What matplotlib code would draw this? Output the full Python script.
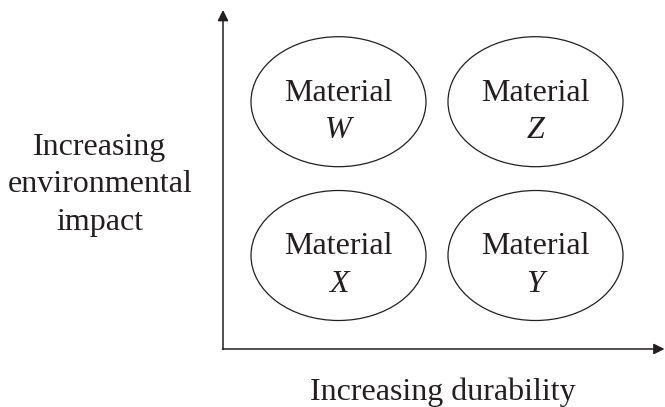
import matplotlib
matplotlib.use("Agg")
import matplotlib.pyplot as plt
from matplotlib.patches import Ellipse

# Data
materials = ["W", "Z", "X", "Y"]
durability_level = [0, 1, 0, 1]   # 0 = lower, 1 = higher
impact_level = [1, 1, 0, 0]       # 0 = lower, 1 = higher
x_label = "Increasing durability"
y_label = "Increasing\nenvironmental\nimpact"

INK = "#231f20"
W, H = 665, 407
fig = plt.figure(figsize=(W / 100, H / 100), dpi=100)
ax = fig.add_axes([0, 0, 1, 1])
ax.set_xlim(0, W)
ax.set_ylim(H, 0)
ax.axis("off")

FS = 23

# axes origin and arrows (pixel space)
ox, oy = 223, 349
ax.annotate("", xy=(223, 10), xytext=(ox, oy + 0.5), annotation_clip=False,
            arrowprops=dict(arrowstyle="-|>", lw=1.1, color=INK,
                            mutation_scale=16, shrinkA=0, shrinkB=0))
ax.annotate("", xy=(664.5, oy), xytext=(ox - 0.5, oy), annotation_clip=False,
            arrowprops=dict(arrowstyle="-|>", lw=1.1, color=INK,
                            mutation_scale=16, shrinkA=0, shrinkB=0))

# grid mapping of levels to positions
cx0, dcx = 338.5, 197
cy0, dcy = 255.5, -153.8
ew, eh = 175, 130

for m, d, i in zip(materials, durability_level, impact_level):
    cx = cx0 + d * dcx
    cy = cy0 + i * dcy
    ax.add_patch(Ellipse((cx, cy), ew, eh, fill=False, ec=INK, lw=0.9))
    ax.text(cx, cy - 1, "Material", ha="center", va="baseline",
            fontsize=FS, family="Liberation Serif", color=INK)
    ax.text(cx, cy + 36.5, m, ha="center", va="baseline", style="italic",
            fontsize=FS, family="Liberation Serif", color=INK)

ax.text(443, 400, x_label, ha="center", va="baseline",
        fontsize=FS, family="Liberation Serif", color=INK)
ax.text(100, 155, "Increasing", ha="center", va="baseline",
        fontsize=FS, family="Liberation Serif", color=INK)
ax.text(100, 192.5, "environmental", ha="center", va="baseline",
        fontsize=FS, family="Liberation Serif", color=INK)
ax.text(100, 230, "impact", ha="center", va="baseline",
        fontsize=FS, family="Liberation Serif", color=INK)

fig.savefig("out.png", dpi=100)
